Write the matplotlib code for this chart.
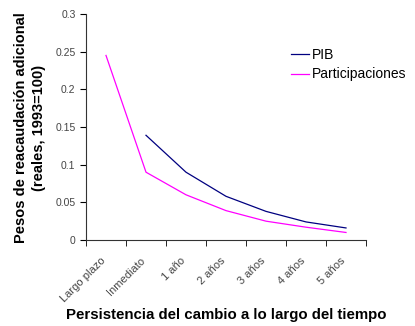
import numpy as np
import matplotlib
matplotlib.use("Agg")
import matplotlib.pyplot as plt
from matplotlib.transforms import ScaledTranslation

plt.rcParams["font.family"] = ["Liberation Sans", "DejaVu Sans"]

categories = ["Largo plazo", "Inmediato", "1 año", "2 años", "3 años", "4 años", "5 años"]
pib = [np.nan, 0.139, 0.090, 0.058, 0.038, 0.024, 0.016]
participaciones = [0.245, 0.090, 0.060, 0.039, 0.025, 0.017, 0.010]

W, H = 415, 326
fig = plt.figure(figsize=(W / 100, H / 100), dpi=100)
ax = fig.add_axes([86 / W, 86 / H, 280 / W, 226 / H])

x = np.arange(len(categories))
ax.plot(x, pib, color="#000080", lw=0.9, label="PIB")
ax.plot(x, participaciones, color="#ff00ff", lw=0.9, label="Participaciones")

ax.set_xlim(-0.5, len(categories) - 0.5)
ax.set_ylim(0, 0.3)
ax.set_yticks(np.arange(0, 0.31, 0.05))
ax.set_yticklabels(["0", "0.05", "0.1", "0.15", "0.2", "0.25", "0.3"])

# category ticks sit between categories, labels centred on them
ax.set_xticks(np.arange(-0.5, len(categories)), minor=True)
ax.set_xticks(x)
ax.set_xticklabels(categories, rotation=45, ha="right", va="top",
                   rotation_mode="anchor")
ax.tick_params(axis="x", which="major", length=0, pad=11, labelsize=8, labelcolor="#444444")
ax.tick_params(axis="x", which="minor", length=4, direction="out")
ax.tick_params(axis="y", length=4, direction="out", labelsize=7.5, labelcolor="#444444")
shift = ScaledTranslation(-6 / 100, 0, fig.dpi_scale_trans)
for lab in ax.get_xticklabels():
    lab.set_transform(lab.get_transform() + shift)

for s in ["top", "right"]:
    ax.spines[s].set_visible(False)
for s in ["left", "bottom"]:
    ax.spines[s].set_color("#333333")

# axis titles placed in figure pixels to match the original layout
fig.text(30 / W, 1 - 128 / H, "Pesos de reacaudación adicional\n(reales, 1993=100)",
         rotation=90, ha="center", va="center", multialignment="center",
         fontweight="bold", fontsize=10.5, linespacing=1.35)
fig.text(226 / W, 1 - 315 / H, "Persistencia del cambio a lo largo del tiempo",
         ha="center", va="center", fontweight="bold", fontsize=10.8)

ax.legend(loc="upper left", bbox_to_anchor=(0.732, 0.85), frameon=False,
          fontsize=10, handlelength=1.3, handletextpad=0.2, labelspacing=0.4,
          borderpad=0, borderaxespad=0)

fig.savefig("out.png", dpi=100)
